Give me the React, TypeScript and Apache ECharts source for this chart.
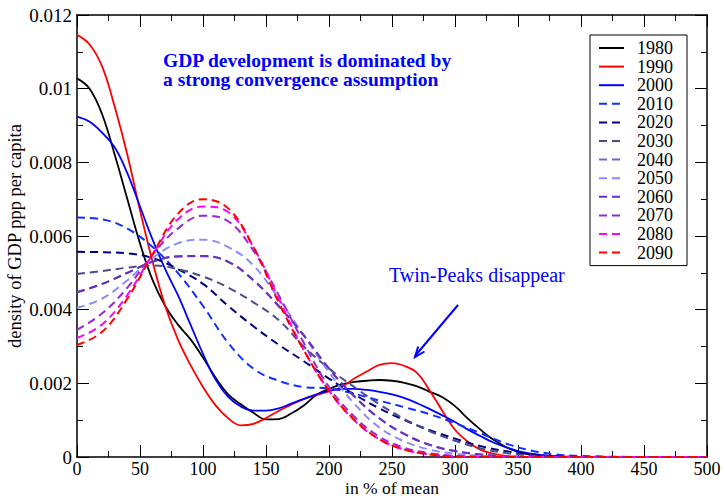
import React, { useEffect, useRef } from "react";
import * as echarts from "echarts";

// x grids (in % of mean)
const xFine = [0, 10, 20, 30, 40, 50, 60, 70, 80, 90, 100, 110, 120, 130, 140, 150, 160, 170, 180, 190, 200, 210, 220, 230, 240, 250, 260, 270, 280, 290, 300, 310, 320, 330, 340, 350, 360, 370, 380, 390, 400, 450, 500];
const xCoarse = [0, 20, 40, 60, 80, 100, 120, 140, 160, 180, 200, 220, 240, 260, 280, 300, 320, 340, 360, 380, 400, 450, 500];

// solid (historic) densities on xFine
const y1980 = [0.01028, 0.01, 0.0093, 0.0082, 0.007, 0.0058, 0.0048, 0.0041, 0.0036, 0.0032, 0.0027, 0.00215, 0.0017, 0.00143, 0.0012, 0.00102, 0.00103, 0.00118, 0.0014, 0.00168, 0.00185, 0.00197, 0.00204, 0.00207, 0.00209, 0.00207, 0.00201, 0.00192, 0.00177, 0.00162, 0.00138, 0.00105, 0.00075, 0.00048, 0.00028, 0.00014, 0.00006, 0.00002, 0.00001, 0, 0, 0, 0];
const y1990 = [0.01146, 0.0112, 0.0106, 0.0095, 0.0082, 0.0067, 0.0053, 0.0041, 0.0032, 0.0025, 0.0019, 0.0014, 0.00105, 0.00086, 0.0009, 0.00106, 0.00125, 0.00142, 0.00157, 0.00168, 0.00178, 0.0019, 0.00213, 0.00232, 0.0025, 0.00255, 0.00247, 0.00228, 0.0018, 0.00125, 0.00074, 0.00042, 0.0002, 0.00009, 0.00003, 0.00001, 0, 0, 0, 0, 0, 0, 0];
const y2000 = [0.00924, 0.0091, 0.0088, 0.0084, 0.0077, 0.0068, 0.0059, 0.0051, 0.0044, 0.0036, 0.0028, 0.0021, 0.00163, 0.00137, 0.00126, 0.00126, 0.00132, 0.00145, 0.00158, 0.0017, 0.0018, 0.00185, 0.00185, 0.00182, 0.00177, 0.0017, 0.0016, 0.00146, 0.0013, 0.00113, 0.00095, 0.00075, 0.00057, 0.0004, 0.00027, 0.00016, 0.00009, 0.00005, 0.00002, 0.00001, 0, 0, 0];

// dashed (projected) densities on xCoarse
const y2010 = [0.0065, 0.00645, 0.0062, 0.0057, 0.005, 0.0041, 0.0031, 0.0024, 0.00207, 0.0019, 0.00186, 0.00172, 0.00153, 0.00135, 0.00116, 0.00092, 0.00065, 0.00037, 0.00018, 0.00007, 0.00003, 0, 0];
const y2020 = [0.00557, 0.00556, 0.00553, 0.0054, 0.0051, 0.0047, 0.0041, 0.00355, 0.00305, 0.0026, 0.00213, 0.0017, 0.00132, 0.001, 0.00073, 0.0005, 0.0003, 0.00016, 0.00007, 0.00002, 0, 0, 0];
const y2030 = [0.00497, 0.00505, 0.00514, 0.0052, 0.0051, 0.0049, 0.0046, 0.0042, 0.00372, 0.003, 0.0024, 0.0019, 0.00143, 0.00103, 0.0007, 0.00044, 0.00024, 0.00011, 0.00004, 0.00001, 0, 0, 0];
const y2040 = [0.00448, 0.0047, 0.005, 0.0053, 0.00544, 0.00545, 0.0053, 0.0048, 0.0041, 0.0033, 0.0024, 0.00165, 0.00105, 0.00062, 0.00033, 0.00016, 0.00007, 0.00002, 0, 0, 0, 0, 0];
const y2050 = [0.00405, 0.0043, 0.0048, 0.0054, 0.0058, 0.0059, 0.0057, 0.0052, 0.0043, 0.0033, 0.0023, 0.00145, 0.0008, 0.00042, 0.0002, 0.00009, 0.00003, 0.00001, 0, 0, 0, 0, 0];
const y2060 = [0.00447, 0.0047, 0.005, 0.0053, 0.00545, 0.00546, 0.0053, 0.0048, 0.0041, 0.0033, 0.0024, 0.00165, 0.00105, 0.00062, 0.00033, 0.00016, 0.00007, 0.00002, 0, 0, 0, 0, 0];
const y2070 = [0.00345, 0.0039, 0.0046, 0.0055, 0.0062, 0.00655, 0.0064, 0.0056, 0.0044, 0.0031, 0.0019, 0.0011, 0.00055, 0.00025, 0.0001, 0.00003, 0.00001, 0, 0, 0, 0, 0, 0];
const y2080 = [0.00323, 0.0036, 0.0044, 0.0055, 0.00645, 0.0068, 0.00665, 0.0057, 0.0043, 0.0029, 0.0018, 0.001, 0.00048, 0.0002, 0.00007, 0.00002, 0, 0, 0, 0, 0, 0, 0];
const y2090 = [0.00304, 0.0034, 0.0043, 0.0055, 0.0066, 0.007, 0.00675, 0.0057, 0.0042, 0.0029, 0.0018, 0.00102, 0.00048, 0.0002, 0.00007, 0.00002, 0, 0, 0, 0, 0, 0, 0];

const years = ["1980", "1990", "2000", "2010", "2020", "2030", "2040", "2050", "2060", "2070", "2080", "2090"];
const values = [y1980, y1990, y2000, y2010, y2020, y2030, y2040, y2050, y2060, y2070, y2080, y2090];
const colors = ["#000000", "#ff0000", "#0000ff", "#1030ff", "#000080", "#4b4b8c", "#6a6ad6", "#8a8aff", "#6a2dc2", "#9a28d8", "#ff00ff", "#ff0000"];
const dashed = [false, false, false, true, true, true, true, true, true, true, true, true];

const xTicks = { min: 0, max: 500, interval: 50 };
const yTicks = { min: 0, max: 0.012, interval: 0.002 };

const FONT = '"Liberation Serif", "Times New Roman", serif';

export default function App() {
  const ref = useRef<HTMLDivElement>(null);
  useEffect(() => {
    if (!ref.current) return;
    const chart = echarts.init(ref.current, null, { renderer: "svg" });
    const tickStyle = { color: "#000", width: 1 };
    const axisLine = { show: true, onZero: false, lineStyle: { color: "#000", width: 1.5 } };
    const baseX = {
      type: "value" as const,
      ...xTicks,
      axisLine,
      axisTick: { show: true, inside: true, length: 12, lineStyle: tickStyle },
      minorTick: { show: true, splitNumber: 2, length: 6, lineStyle: tickStyle },
      splitLine: { show: false },
    };
    const baseY = {
      type: "value" as const,
      ...yTicks,
      axisLine,
      axisTick: { show: true, inside: true, length: 12, lineStyle: tickStyle },
      minorTick: { show: true, splitNumber: 2, length: 6, lineStyle: tickStyle },
      splitLine: { show: false },
    };
    const series = years.map((yr, i) => {
      const xs = dashed[i] ? xCoarse : xFine;
      return {
        name: yr,
        type: "line" as const,
        symbol: "none",
        showSymbol: false,
        smooth: 0.4,
        clip: true,
        data: xs.map((x, j) => [x, values[i][j]]),
        itemStyle: { color: colors[i] },
        lineStyle: { color: colors[i], width: dashed[i] ? 2 : 1.8, type: dashed[i] ? [8, 5] : "solid" },
      };
    });
    chart.setOption({
      animation: false,
      backgroundColor: "#fff",
      grid: { left: 77, right: 16, top: 15, bottom: 39, containLabel: false, outerBoundsMode: "none" },
      xAxis: [
        {
          ...baseX,
          position: "bottom",
          axisLabel: { color: "#000", fontSize: 18, lineHeight: 17, fontFamily: FONT, margin: 3 },
          name: "in % of mean",
          nameLocation: "middle",
          nameGap: 22,
          nameMoveOverlap: false,
          nameTextStyle: { color: "#000", fontSize: 17.5, lineHeight: 17, fontFamily: FONT },
        },
        { ...baseX, position: "top", axisLabel: { show: false } },
      ],
      yAxis: [
        {
          ...baseY,
          position: "left",
          axisLabel: { color: "#000", fontSize: 19, fontFamily: FONT, margin: 5 },
          name: "density of GDP ppp per capita",
          nameLocation: "middle",
          nameGap: 53,
          nameMoveOverlap: false,
          nameTextStyle: { color: "#000", fontSize: 18.5, fontFamily: FONT },
        },
        { ...baseY, position: "right", axisLabel: { show: false } },
      ],
      legend: {
        show: true,
        orient: "vertical",
        left: 590,
        top: 35,
        data: years,
        itemWidth: 25,
        itemHeight: 14,
        itemGap: 0.6,
        padding: [4, 14, 4, 8],
        borderColor: "#000",
        borderWidth: 1,
        borderRadius: 0,
        backgroundColor: "#fff",
        selectedMode: false,
        itemStyle: { color: "transparent", borderColor: "transparent", borderWidth: 0, opacity: 0 },
        textStyle: { color: "#000", fontSize: 18, fontFamily: FONT, lineHeight: 18, padding: [0, 0, 0, 8] },
      },
      graphic: [
        {
          type: "text",
          left: 163,
          top: 50,
          style: {
            text: "GDP development is dominated by",
            font: 'bold 19.5px "Liberation Serif", serif',
            fill: "#0000ff",
            lineHeight: 18,
          },
        },
        {
          type: "text",
          left: 163,
          top: 69,
          style: {
            text: "a strong convergence assumption",
            font: 'bold 19.5px "Liberation Serif", serif',
            fill: "#0000ff",
            lineHeight: 18,
          },
        },
        {
          type: "text",
          left: 389,
          top: 265,
          style: { text: "Twin-Peaks disappear", font: '20px "Liberation Serif", serif', fill: "#0000ff" },
        },
        { type: "line", shape: { x1: 458, y1: 305, x2: 415, y2: 356 }, style: { stroke: "#0000ff", lineWidth: 2 } },
        {
          type: "polyline",
          shape: { points: [[424.5, 351.5], [415, 357], [418.2, 346.5]] },
          style: { stroke: "#0000ff", lineWidth: 2, fill: null },
        },
      ],
      series,
    });
    return () => chart.dispose();
  }, []);
  return <div ref={ref} style={{ position: "fixed", left: 0, top: 0, width: 723, height: 496 }} />;
}
